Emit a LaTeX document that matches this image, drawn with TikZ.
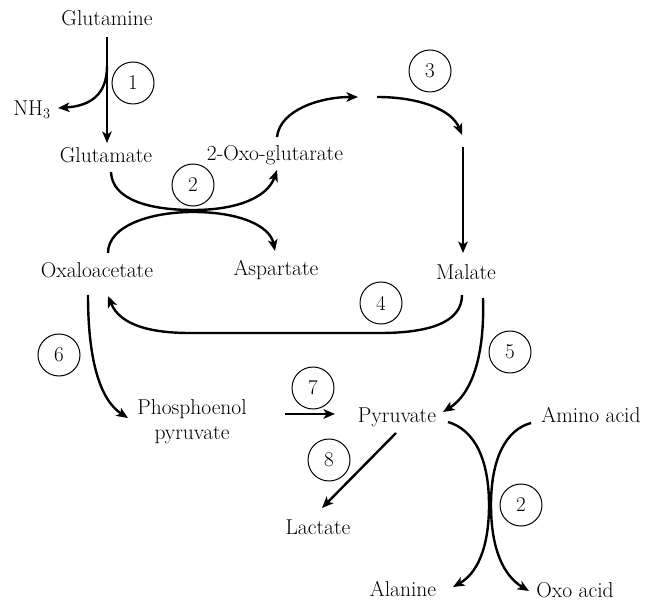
\documentclass[tikz,border=0pt]{standalone}
\usetikzlibrary{arrows.meta}
\begin{document}
\begin{tikzpicture}[x=1pt,y=-1pt,
  met/.style={inner sep=0pt,font=\fontsize{21.5}{25}\selectfont},
  enz/.style={draw,circle,line width=1pt,minimum size=42pt,inner sep=0pt,font=\fontsize{21}{25}\selectfont},
  arr/.style={line width=2.4pt,-{Stealth[length=11.5pt,width=9.5pt,inset=3pt]}}]
\useasboundingbox (0,0) rectangle (645,601);

% metabolites
\node[met] (gln) at (107,18) {Glutamine};
\node[met] (nh3) at (32,110) {NH$_3$};
\node[met] (glu) at (106,155) {Glutamate};
\node[met] (oxg) at (275,155) {2-Oxo-glutarate};
\node[met] (oaa) at (97,270) {Oxaloacetate};
\node[met] (asp) at (276,270) {Aspartate};
\node[met] (mal) at (466,272) {Malate};
\node[met,align=center] (pep) at (192,422) {Phosphoenol\\pyruvate};
\node[met] (pyr) at (397,417) {Pyruvate};
\node[met] (ami) at (591,415) {Amino acid};
\node[met] (lac) at (318,527) {Lactate};
\node[met] (ala) at (403,589) {Alanine};
\node[met] (oxo) at (575,590) {Oxo acid};

% enzyme markers
\node[enz] (e1) at (133,83) {1};
\node[enz] (e2a) at (193,185) {2};
\node[enz] (e3) at (430,71) {3};
\node[enz] (e4) at (381,303) {4};
\node[enz] (e5) at (510,352) {5};
\node[enz] (e6) at (59,355) {6};
\node[enz] (e7) at (313,388) {7};
\node[enz] (e8) at (329,460) {8};
\node[enz] (e2b) at (521,505) {2};

% connector end points
\coordinate (glnS) at (107,37);
\coordinate (gluN) at (107,143);
\coordinate (nh3Br) at (107,66);
\coordinate (nh3E) at (58,108);
\coordinate (gluS) at (111,172);
\coordinate (oxgS) at (277,170);
\coordinate (oaaN) at (108,253);
\coordinate (aspN) at (275,251);
\coordinate (oxgN) at (277,137);
\coordinate (midW) at (358,97);
\coordinate (midE) at (377,97);
\coordinate (c3end) at (462,135);
\coordinate (c3top) at (463,147);
\coordinate (malN) at (463,253);
\coordinate (malSW) at (462,295);
\coordinate (oaaSE) at (108,296);
\coordinate (malSE) at (483,298);
\coordinate (pyrNE) at (443,412);
\coordinate (oaaSW) at (88,295);
\coordinate (pepW) at (128,418);
\coordinate (pepE) at (285,414);
\coordinate (pyrW) at (335,414);
\coordinate (pyrS) at (396,433);
\coordinate (lacN) at (322,508);
\coordinate (pyrE) at (448,422);
\coordinate (alaE) at (453,587);
\coordinate (amiW) at (531,423);
\coordinate (oxoW) at (529,591);

% 1: glutamine -> glutamate + NH3
\draw[arr] (glnS) -- (gluN);
\draw[arr] (nh3Br) .. controls (107,95) and (90,106) .. (nh3E);

% 2: transamination glutamate/oxaloacetate
\draw[arr] (gluS) .. controls (112,200) and (150,210) .. (193,210)
  .. controls (240,210) and (268,196) .. (oxgS);
\draw[arr] (oaaN) .. controls (108,226) and (150,212) .. (193,212)
  .. controls (240,212) and (270,226) .. (aspN);

% 3: towards malate
\draw[arr] (oxgN) .. controls (280,110) and (320,97) .. (midW);
\draw[arr] (midE) .. controls (420,97) and (452,110) .. (c3end);
\draw[arr] (c3top) -- (malN);

% 4: malate -> oxaloacetate
\draw[arr] (malSW) .. controls (462,322) and (430,333) .. (380,333)
  -- (190,333) .. controls (150,333) and (120,325) .. (oaaSE);

% 5: malate -> pyruvate
\draw[arr] (malSE) .. controls (485,360) and (470,395) .. (pyrNE);

% 6: oxaloacetate -> phosphoenolpyruvate
\draw[arr] (oaaSW) .. controls (88,360) and (100,400) .. (pepW);

% 7: phosphoenolpyruvate -> pyruvate
\draw[arr] (pepE) -- (pyrW);

% 8: pyruvate -> lactate
\draw[arr] (pyrS) -- (lacN);

% 2: pyruvate/amino acid transamination
\draw[arr] (pyrE) .. controls (475,430) and (489,460) .. (489,505)
  .. controls (489,550) and (476,574) .. (alaE);
\draw[arr] (amiW) .. controls (505,430) and (491,460) .. (491,505)
  .. controls (491,550) and (504,576) .. (oxoW);
\end{tikzpicture}
\end{document}
